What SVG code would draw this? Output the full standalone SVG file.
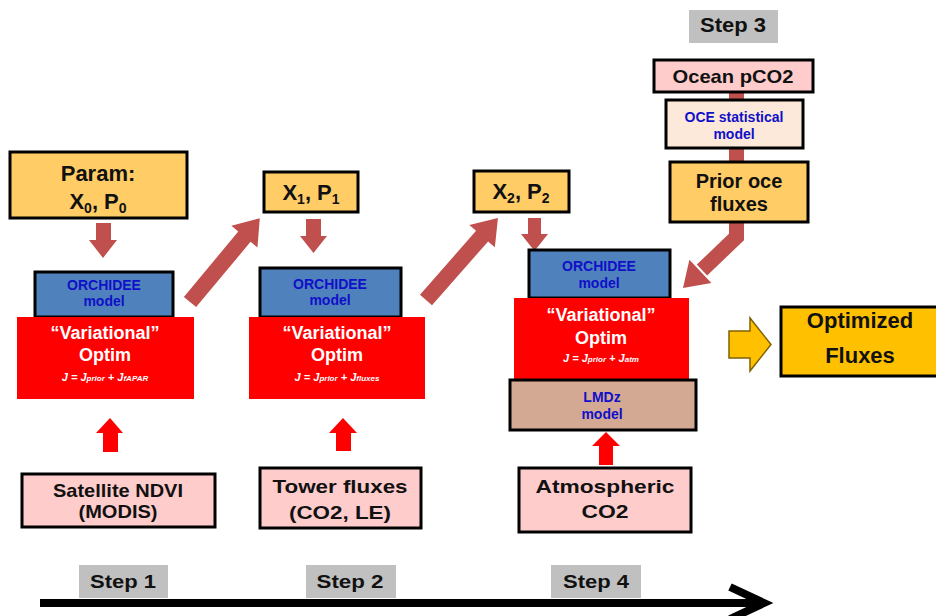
<svg xmlns="http://www.w3.org/2000/svg" width="936" height="616" viewBox="0 0 936 616">
<style>
text{font-family:"Liberation Sans",Arial,sans-serif;font-weight:bold;text-anchor:middle}
.box{stroke:#000;stroke-width:3}
.yel{fill:#FFCC66}
.blue{fill:#4F81BD}
.red{fill:#FF0000}
.pink{fill:#FFCCCC}
.step{fill:#C0C0C0}
.big{font-size:22px;fill:#111}
.mod{font-size:14px;fill:#1010C8}
.wh{fill:#fff;font-size:18px}
.j{fill:#fff;font-size:11px;font-style:italic}
.nar{font-size:19px;fill:#111}
.darr{fill:#C0504D}
.uarr{fill:#FF0000}
</style>
<g id="connectors">
<polygon class="darr" points="96,223 111,223 111,240 117,240 103,258 89,240 96,240"/>
<polygon class="darr" points="306,219 321,219 321,236 327,236 313.5,253 300,236 306,236"/>
<polygon class="darr" points="528,218 541,218 541,234 548,234 534.5,251 521,234 528,234"/>
<polygon class="darr" transform="translate(190,302) rotate(-50.2)" points="0,-8 85,-8 85,-17 109,0 85,17 85,8 0,8"/>
<polygon class="darr" transform="translate(426,300) rotate(-48.7)" points="0,-8 85,-8 85,-17 109,0 85,17 85,8 0,8"/>
<rect class="darr" x="729" y="92" width="15" height="8"/>
<rect class="darr" x="729" y="148" width="15" height="14"/>
<path d="M736.5,222 V237 L702,270" fill="none" stroke="#C0504D" stroke-width="15" stroke-linejoin="miter"/>
<polygon class="darr" transform="translate(683,288) rotate(136.5)" points="0,0 -24,-16 -24,16" />
<polygon class="uarr" points="110,418 123,433 118,433 118,452 103,452 103,433 96,433"/>
<polygon class="uarr" points="343,418 357,433 351,433 351,451 336,451 336,433 329,433"/>
<polygon class="uarr" points="606,432 620,446 613,446 613,465 599,465 599,446 592,446"/>
<polygon fill="#FFC000" stroke="#7F6000" stroke-width="1.5" points="729,331 750,331 750,318 771,344.5 750,371 750,358 729,358"/>
<path d="M40,603 H763" stroke="#000" stroke-width="8"/>
<polyline points="730,587 764,603 730,619" fill="none" stroke="#000" stroke-width="8"/>
</g>
<g id="param0"><rect class="box yel" x="10" y="152" width="177" height="66"/>
<text class="big" x="98" y="181">Param:</text>
<text class="big" x="98" y="209">X<tspan font-size="14" dy="4">0</tspan><tspan dy="-4">, P</tspan><tspan font-size="14" dy="4">0</tspan></text></g>
<g id="param1"><rect class="box yel" x="264" y="172" width="94" height="40"/>
<text class="big" x="311" y="200">X<tspan font-size="14" dy="4">1</tspan><tspan dy="-4">, P</tspan><tspan font-size="14" dy="4">1</tspan></text></g>
<g id="param2"><rect class="box yel" x="474" y="171" width="95" height="41"/>
<text class="big" x="521" y="199">X<tspan font-size="14" dy="4">2</tspan><tspan dy="-4">, P</tspan><tspan font-size="14" dy="4">2</tspan></text></g>
<g id="orchidee1"><rect class="box blue" x="35" y="272" width="138" height="45"/>
<text class="mod" x="104" y="290">ORCHIDEE</text><text class="mod" x="104" y="306">model</text></g>
<g id="optim1"><rect class="red" x="17" y="317" width="177" height="82"/>
<text class="wh" x="105" y="339">“Variational”</text><text class="wh" x="105" y="361">Optim</text>
<text class="j" x="105" y="381">J = J<tspan font-size="8">prior</tspan> + J<tspan font-size="8">fAPAR</tspan></text></g>
<g id="orchidee2"><rect class="box blue" x="260" y="268" width="141" height="49"/>
<text class="mod" x="330" y="289">ORCHIDEE</text><text class="mod" x="330" y="305">model</text></g>
<g id="optim2"><rect class="red" x="249" y="317" width="176" height="82"/>
<text class="wh" x="337" y="339">“Variational”</text><text class="wh" x="337" y="361">Optim</text>
<text class="j" x="337" y="381">J = J<tspan font-size="8">prior</tspan> + J<tspan font-size="8">fluxes</tspan></text></g>
<g id="orchidee3"><rect class="box blue" x="529" y="250" width="141" height="48"/>
<text class="mod" x="599" y="271">ORCHIDEE</text><text class="mod" x="599" y="288">model</text></g>
<g id="optim3"><rect class="red" x="514" y="298" width="175" height="82"/>
<text class="wh" x="601" y="321">“Variational”</text><text class="wh" x="601" y="344">Optim</text>
<text class="j" x="601" y="362">J = J<tspan font-size="8">prior</tspan> + J<tspan font-size="8">atm</tspan></text></g>
<g id="lmdz"><rect class="box" fill="#D4A993" x="510" y="380" width="186" height="50"/>
<text class="mod" x="602" y="402">LMDz</text><text class="mod" x="602" y="419">model</text></g>
<g id="step3"><rect class="step" x="689" y="10" width="89" height="33"/><text x="733" y="32" font-size="20" fill="#111" textLength="66" lengthAdjust="spacingAndGlyphs">Step 3</text></g>
<g id="ocean"><rect class="box pink" x="654" y="60" width="159" height="32"/><text x="733" y="83" font-size="19" fill="#111" textLength="121" lengthAdjust="spacingAndGlyphs">Ocean pCO2</text></g>
<g id="oce"><rect class="box" fill="#FDE9D9" x="666" y="100" width="137" height="48"/>
<text class="mod" x="734" y="122">OCE statistical</text><text class="mod" x="734" y="139">model</text></g>
<g id="prior"><rect class="box yel" x="670" y="162" width="138" height="60"/>
<text x="739" y="188" font-size="20" fill="#111">Prior oce</text><text x="739" y="211" font-size="20" fill="#111">fluxes</text></g>
<g id="optimized"><rect class="box" fill="#FFC000" x="781" y="307" width="160" height="69"/>
<text class="big" x="860" y="328" font-size="24">Optimized</text><text class="big" x="860" y="363" font-size="24">Fluxes</text></g>
<g id="satellite"><rect class="box pink" x="22" y="474" width="193" height="53"/>
<text class="nar" x="118" y="497" textLength="130" lengthAdjust="spacingAndGlyphs">Satellite NDVI</text><text class="nar" x="118" y="518" textLength="79" lengthAdjust="spacingAndGlyphs">(MODIS)</text></g>
<g id="tower"><rect class="box pink" x="260" y="468" width="161" height="60"/>
<text class="nar" x="340" y="493" font-size="20" textLength="135" lengthAdjust="spacingAndGlyphs">Tower fluxes</text><text class="nar" x="340" y="519" font-size="20" textLength="102" lengthAdjust="spacingAndGlyphs">(CO2, LE)</text></g>
<g id="atmos"><rect class="box pink" x="519" y="468" width="172" height="64"/>
<text class="nar" x="605" y="493" font-size="20" textLength="139" lengthAdjust="spacingAndGlyphs">Atmospheric</text><text class="nar" x="605" y="518" font-size="20" textLength="47" lengthAdjust="spacingAndGlyphs">CO2</text></g>
<g id="step1"><rect class="step" x="79" y="565" width="89" height="33"/><text class="nar" x="123" y="588" textLength="66" lengthAdjust="spacingAndGlyphs">Step 1</text></g>
<g id="step2"><rect class="step" x="306" y="565" width="90" height="33"/><text class="nar" x="350" y="588" textLength="67" lengthAdjust="spacingAndGlyphs">Step 2</text></g>
<g id="step4"><rect class="step" x="551" y="565" width="90" height="33"/><text class="nar" x="596" y="588" textLength="66" lengthAdjust="spacingAndGlyphs">Step 4</text></g>
</svg>
